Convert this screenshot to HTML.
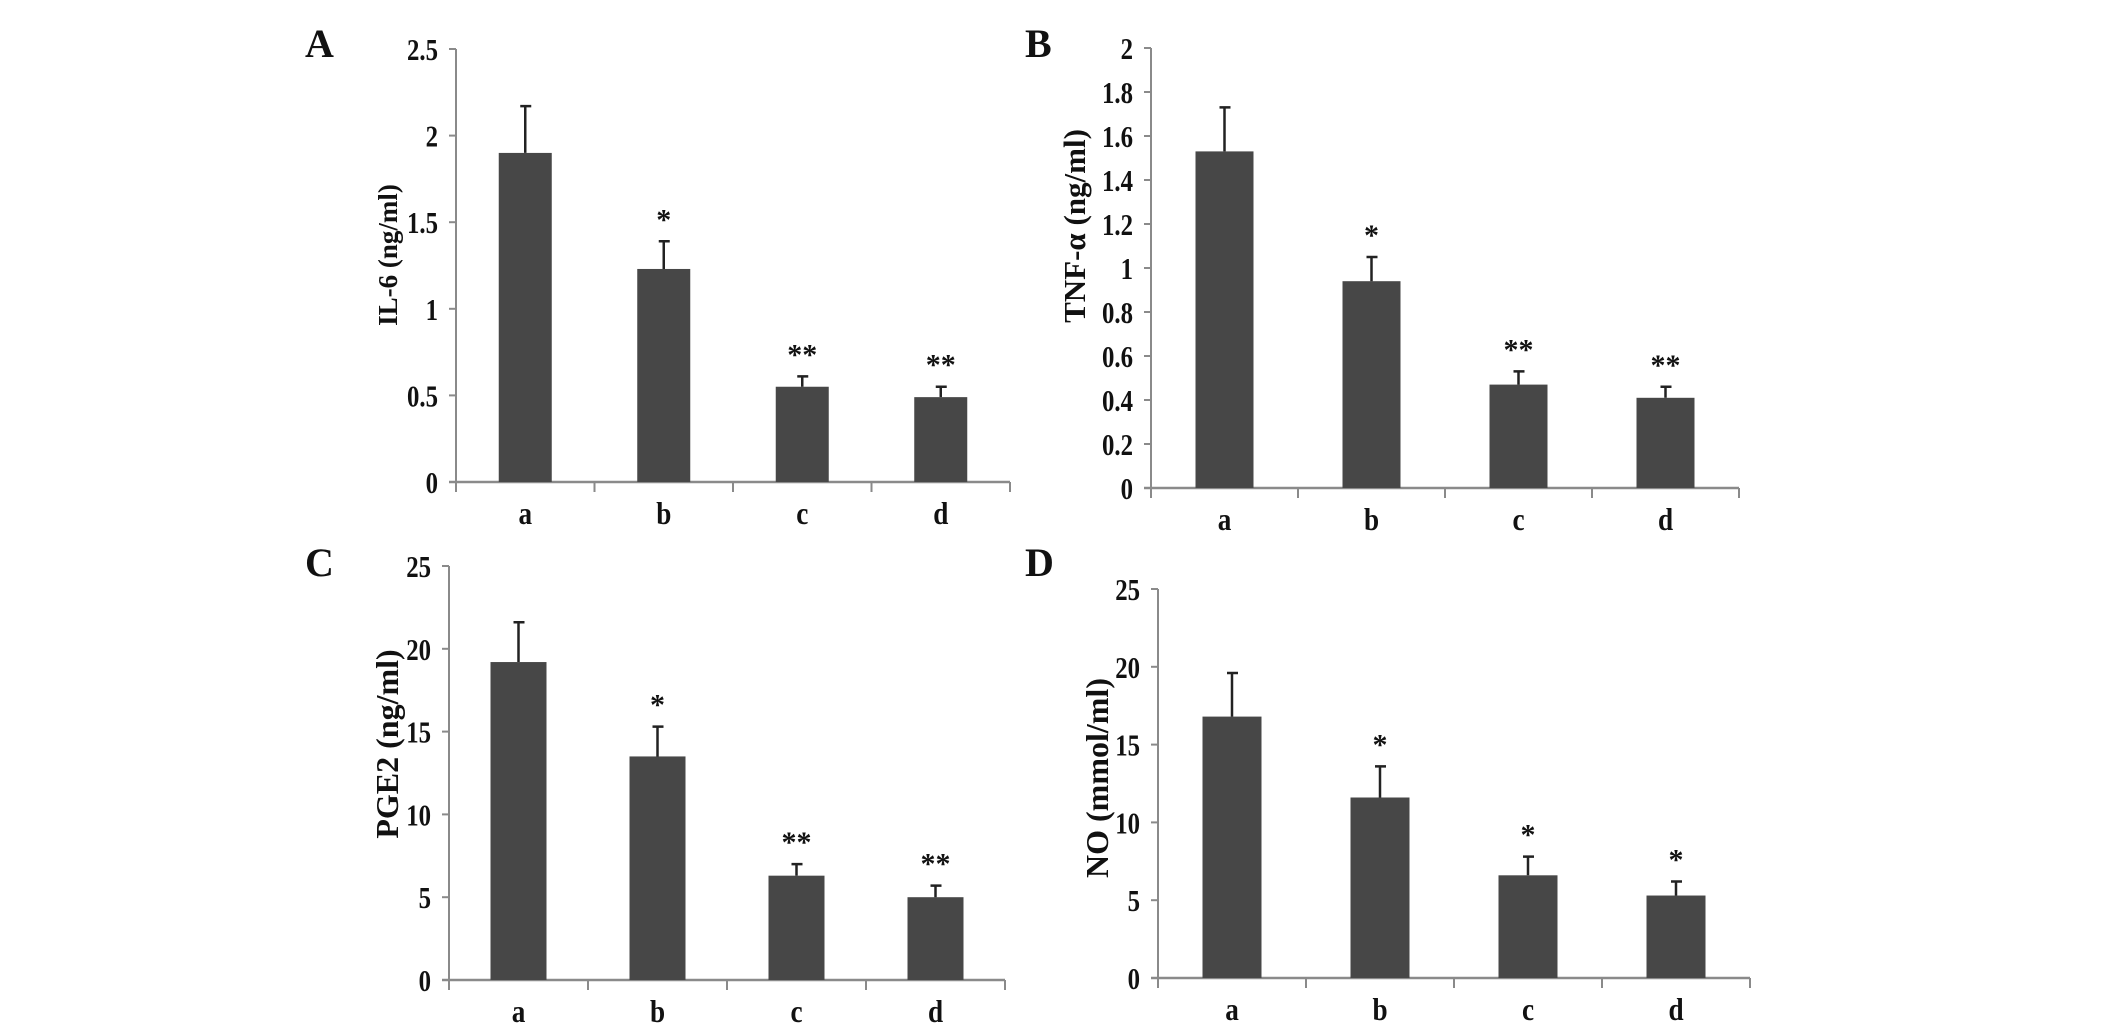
<!DOCTYPE html>
<html><head><meta charset="utf-8"><style>
html,body{margin:0;padding:0;background:#fff;}
svg{display:block;}
text{font-family:"Liberation Serif",serif;fill:#111;}
</style></head><body>
<svg id="fig" width="2126" height="1035" viewBox="0 0 2126 1035" xmlns="http://www.w3.org/2000/svg"></svg>
<script>
const categories = ["a","b","c","d"];
const ilValues = [1.9, 1.23, 0.55, 0.49];
const ilErrors = [0.27, 0.16, 0.06, 0.06];
const ilTicks = ["0","0.5","1","1.5","2","2.5"];
const tnfValues = [1.53, 0.94, 0.47, 0.41];
const tnfErrors = [0.2, 0.11, 0.06, 0.05];
const tnfTicks = ["0","0.2","0.4","0.6","0.8","1","1.2","1.4","1.6","1.8","2"];
const pgeValues = [19.2, 13.5, 6.3, 5.0];
const pgeErrors = [2.4, 1.8, 0.7, 0.7];
const pgeTicks = ["0","5","10","15","20","25"];
const noValues = [16.8, 11.6, 6.6, 5.3];
const noErrors = [2.8, 2.0, 1.2, 0.9];
const noTicks = ["0","5","10","15","20","25"];
const ilStars = ["","*","**","**"];
const tnfStars = ["","*","**","**"];
const pgeStars = ["","*","**","**"];
const noStars = ["","*","*","*"];

const svg = document.getElementById('fig');
const NS = "http://www.w3.org/2000/svg";
function mk(tag, attrs, parent){
  const e = document.createElementNS(NS, tag);
  for (const k in attrs) e.setAttribute(k, attrs[k]);
  (parent||svg).appendChild(e);
  return e;
}
function panel(cfg){
  const g = mk('g', {});
  
  
  const maxV = parseFloat(cfg.ticks[cfg.ticks.length-1]);
  const y = v => cfg.y0 - (v / maxV) * (cfg.y0 - cfg.yTop);
  const band = (cfg.x1 - cfg.x0) / cfg.cats.length;
  const xc = i => cfg.x0 + band * (i + 0.5);
  const L = mk('text', {x: cfg.lx, y: cfg.ly, 'font-size': 40, 'font-weight': 'bold'}, g);
  L.textContent = cfg.letter;
  
  
  const ya = mk('line', {x1: cfg.x0, y1: cfg.yTop, x2: cfg.x0, y2: cfg.y0 + 10, stroke: '#8a8a8a', 'stroke-width': 2}, g);
  
  
  const xa = mk('line', {x1: cfg.x0 - 7, y1: cfg.y0, x2: cfg.x1, y2: cfg.y0, stroke: '#8a8a8a', 'stroke-width': 2.5}, g);
  
  
  cfg.ticks.forEach(t => {
    const v = parseFloat(t);
    const tk = mk('line', {x1: cfg.x0 - 7, y1: y(v), x2: cfg.x0, y2: y(v), stroke: '#8a8a8a', 'stroke-width': 2}, g);
    
    
    const tl = mk('text', {x: 0, y: 0, 'font-size': 31, 'font-weight': 'bold', 'text-anchor': 'end',
      transform: 'translate(' + (cfg.x0 - 18) + ',' + (y(v) + 11) + ') scale(0.8,1)'}, g);
    tl.textContent = t;
    
    
  });
  for (let i = 1; i <= cfg.cats.length; i++) {
    const xt = cfg.x0 + band * i;
    const tk = mk('line', {x1: xt, y1: cfg.y0, x2: xt, y2: cfg.y0 + 10, stroke: '#8a8a8a', 'stroke-width': 2}, g);
    
    
  }
  const yl = mk('text', {x: 0, y: 0, 'font-size': cfg.yfs, 'font-weight': 'bold', 'text-anchor': 'middle',
    transform: 'translate(' + cfg.ylx + ',' + cfg.yly + ') rotate(-90)'}, g);
  yl.textContent = cfg.ylabel;
  
  
  cfg.cats.forEach((c, i) => {
    const cx = xc(i);
    const b = mk('rect', {x: cx - cfg.bw/2, y: y(cfg.vals[i]), width: cfg.bw, height: cfg.y0 - y(cfg.vals[i]), fill: '#474747'}, g);
    
    
    const top = y(cfg.vals[i] + cfg.errs[i]);
    const e = mk('path', {d: 'M' + cx + ',' + y(cfg.vals[i]) + 'V' + top + 'M' + (cx - 5) + ',' + top + 'H' + (cx + 6), stroke: '#222', 'stroke-width': 2.5, fill: 'none'}, g);
    
    
    if (cfg.stars[i]) {
      const s = mk('text', {x: cx, y: top - 12, 'font-size': 30, 'font-weight': 'bold', 'text-anchor': 'middle'}, g);
      s.textContent = cfg.stars[i];
      
      
    }
    const xl = mk('text', {x: 0, y: 0, 'font-size': 32, 'font-weight': 'bold', 'text-anchor': 'middle',
      transform: 'translate(' + cx + ',' + (cfg.y0 + 42) + ') scale(0.85,1)'}, g);
    xl.textContent = c;
    
    
  });
}
panel({id:'il6', letter:'A', lx:305, ly:57, x0:456, x1:1010, yTop:49, y0:482, bw:53, ticks:ilTicks, vals:ilValues, errs:ilErrors, stars:ilStars, cats:categories, ylabel:'IL-6 (ng/ml)', ylx:397, yly:255, yfs:27});
panel({id:'tnf', letter:'B', lx:1025, ly:57, x0:1151, x1:1739, yTop:48, y0:488, bw:58, ticks:tnfTicks, vals:tnfValues, errs:tnfErrors, stars:tnfStars, cats:categories, ylabel:'TNF-α (ng/ml)', ylx:1085, yly:226, yfs:31});
panel({id:'pge2', letter:'C', lx:305, ly:576, x0:449, x1:1005, yTop:566, y0:980, bw:56, ticks:pgeTicks, vals:pgeValues, errs:pgeErrors, stars:pgeStars, cats:categories, ylabel:'PGE2 (ng/ml)', ylx:398, yly:744, yfs:32});
panel({id:'no', letter:'D', lx:1025, ly:576, x0:1158, x1:1750, yTop:589, y0:978, bw:59, ticks:noTicks, vals:noValues, errs:noErrors, stars:noStars, cats:categories, ylabel:'NO (mmol/ml)', ylx:1108, yly:778, yfs:32});
</script>
</body></html>
